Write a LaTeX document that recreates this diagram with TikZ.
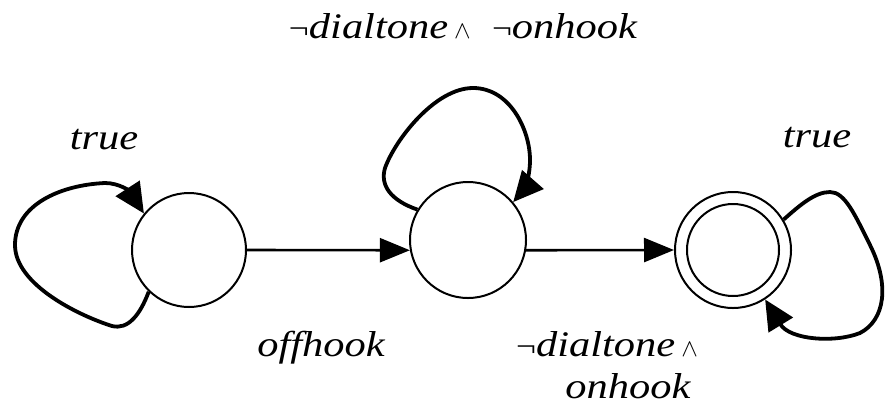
\documentclass[tikz,border=0pt]{standalone}
\usepackage{fontspec}
\setmainfont{Liberation Serif}
\newfontfamily\lblfont[FakeStretch=1.18]{Liberation Serif}
\usetikzlibrary{arrows.meta}
\newcommand{\Neg}{{\upshape\fontsize{30}{30}\selectfont\char"00AC}}
\newcommand{\Wedge}{\,{\fontsize{34}{34}\selectfont$\wedge$}}
\begin{document}
\begin{tikzpicture}[x=1pt,y=-1pt,
  state/.style={circle,draw,line width=2pt,minimum size=#1,inner sep=0pt},
  trans/.style={line width=2.6pt,-{Triangle[length=30pt,width=24pt]}},
  loop/.style={line width=3.8pt,-{Triangle[length=30pt,width=28pt]}},
  lbl/.style={anchor=base,inner sep=0pt,font=\lblfont\itshape\fontsize{36}{42}\selectfont}]
\useasboundingbox (0,0) rectangle (888,413);

% states
\node[state=114pt] (s1) at (189,250) {};
\node[state=116pt] (s2) at (468,240) {};
\node[state=116pt] (s3) at (733,250) {};
\node[state=92pt]  (s3in) at (733,250) {};

% transitions between states
\draw[trans] (s1.east) -- (s2.190);
\draw[trans] (s2.350) -- (s3.west);

% self loops
\draw[loop] (s1.226) .. controls (140,315) and (128,330) .. (112,326)
  .. controls (80,316) and (15,285) .. (15,245)
  .. controls (15,205) and (60,185) .. (105,183)
  .. controls (120,183) and (130,192) .. (s1.141);
\draw[loop] (s2.149) .. controls (390,200) and (380,185) .. (385,168)
  .. controls (395,140) and (435,88) .. (473,88)
  .. controls (510,88) and (530,130) .. (530,160)
  .. controls (530,180) and (522,192) .. (s2.40);
\draw[loop] (s3.31) .. controls (800,205) and (815,192) .. (830,192)
  .. controls (845,192) and (855,215) .. (870,245)
  .. controls (890,285) and (885,320) .. (860,333)
  .. controls (835,343) and (790,340) .. (s3.303);

% labels
\node[lbl] (ltrue1) at (104,149) {true};
\node[lbl] (ltrue3) at (817,147) {true};
\node[lbl] (ltop) at (463,38) {\Neg dialtone\Wedge\ \ \Neg onhook};
\node[lbl] (loff) at (321,356) {offhook};
\node[lbl,align=center] (lbot) at (607,398) {\Neg dialtone\Wedge\\\hspace*{42pt}onhook};
\end{tikzpicture}
\end{document}
